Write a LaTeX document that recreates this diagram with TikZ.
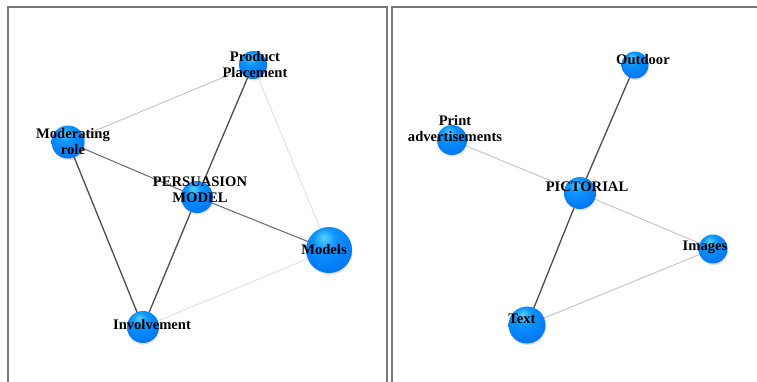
\documentclass[tikz,border=0pt]{standalone}
\usepackage{fontspec}
\setmainfont{Liberation Serif}
\usetikzlibrary{backgrounds, shadows}
\definecolor{framegray}{RGB}{120,120,120}
\pgfdeclareradialshading{bluesphere}{\pgfpoint{-6bp}{14bp}}{%
    rgb(0bp)=(0.35,0.82,1); rgb(12bp)=(0.05,0.58,1); rgb(36bp)=(0,0.44,0.95);
    rgb(55bp)=(0,0.32,0.8); rgb(70bp)=(0,0.3,0.75)}

\begin{document}
\begin{tikzpicture}[x=1pt, y=-1pt,
        sphere/.style={circle, shading=bluesphere, minimum size=#1, inner sep=0pt,
            drop shadow={shadow xshift=0.6pt, shadow yshift=-1.6pt, opacity=0.25}},
        lbl/.style={font=\bfseries\fontsize{14.6}{16}\selectfont, align=center, inner sep=0pt},
        frame/.style={draw=framegray, line width=1.4pt},
        strong/.style={draw=black!70, line width=1.3pt},
        medium/.style={draw=black!55, line width=1.1pt},
        weak/.style={draw=black!22, line width=1pt},
        faint/.style={draw=black!11, line width=1pt},
    ]
    \useasboundingbox (0,0) rectangle (757,381);

    % ===== Frames =====
    \draw[frame] (8,7) rectangle (387,390);
    \draw[frame] (392,7) rectangle (765,390);

    % ===== Left: persuasion model =====
    \node[sphere=28pt] (PP)   at (253,65)  {};
    \node[sphere=33pt] (MOD)  at (68,142)  {};
    \node[sphere=32pt] (PERS) at (197,197) {};
    \node[sphere=46pt] (MDL)  at (329,250) {};
    \node[sphere=32pt] (INV)  at (143,327) {};

    \begin{scope}[on background layer]
        \draw[weak]   (MOD.center) -- (PP.center);
        \draw[medium] (MOD.center) -- (PERS.center);
        \draw[strong] (MOD.center) -- (INV.center);
        \draw[strong] (PP.center) -- (PERS.center);
        \draw[faint]  (PP.center) -- (MDL.center);
        \draw[medium] (PERS.center) -- (MDL.center);
        \draw[strong] (PERS.center) -- (INV.center);
        \draw[faint]  (INV.center) -- (MDL.center);
    \end{scope}

    \node[lbl] (PP-L)   at (255,65)  {Product\\Placement};
    \node[lbl] (MOD-L)  at (73,142)  {Moderating\\role};
    \node[lbl] (PERS-L) at (200,190) {PERSUASION\\MODEL};
    \node[lbl] (MDL-L)  at (324,249) {Models};
    \node[lbl] (INV-L)  at (152,324) {Involvement};

    % ===== Right: pictorial =====
    \node[sphere=27pt] (OUT)  at (635,65)  {};
    \node[sphere=30pt] (PRT)  at (452,140) {};
    \node[sphere=32pt] (PIC)  at (580,193) {};
    \node[sphere=29pt] (IMG)  at (713,249) {};
    \node[sphere=37pt] (TXT)  at (527,325) {};

    \begin{scope}[on background layer]
        \draw[strong] (OUT.center) -- (PIC.center);
        \draw[weak]   (PRT.center) -- (PIC.center);
        \draw[weak]   (PIC.center) -- (IMG.center);
        \draw[strong] (PIC.center) -- (TXT.center);
        \draw[weak]   (TXT.center) -- (IMG.center);
    \end{scope}

    \node[lbl] (OUT-L) at (643,60)  {Outdoor};
    \node[lbl] (PRT-L) at (455,129) {Print\\advertisements};
    \node[lbl] (PIC-L) at (587,187) {PICTORIAL};
    \node[lbl] (IMG-L) at (705,247) {Images};
    \node[lbl] (TXT-L) at (522,319) {Text};

\end{tikzpicture}
\end{document}
